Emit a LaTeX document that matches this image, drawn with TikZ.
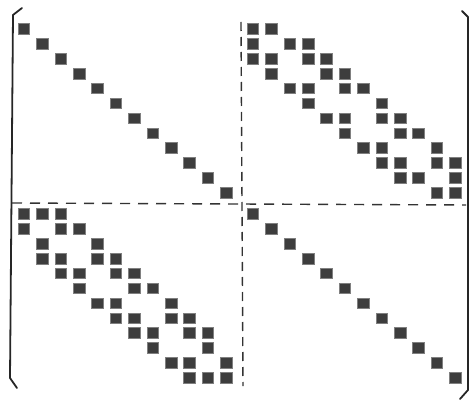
\documentclass[tikz,border=0pt]{standalone}
\usetikzlibrary{calc}
\tikzset{
  nz/.style={fill=black!76,draw=black!50,line width=0.9pt},
  blockline/.style={line width=1.4pt,black!80,dash pattern=on 10pt off 8pt},
  bracket/.style={line width=1.8pt,black!85,line cap=round,line join=round}
}
% one nonzero of the 24x24 pattern, (row, column)
\newcommand{\nzentry}[2]{%
  \pgfmathsetmacro\nzx{(#2)<12 ? 24+18.4*(#2) : 253+18.4*((#2)-12)}%
  \pgfmathsetmacro\nzy{(#1)<12 ? 29+14.9*(#1) : 214+14.9*((#1)-12)}%
  \path[nz] (\nzx-5.8,\nzy-5.3) rectangle (\nzx+5.8,\nzy+5.3);}

\begin{document}
\begin{tikzpicture}[x=1pt,y=-1pt]
  \useasboundingbox (0,0) rectangle (470,401);
  % brackets
  \draw[bracket] (22,8) -- (13,15) -- (10,378) -- (17,388);
  \draw[bracket] (462,11) -- (468,17) -- (468,390) -- (460,399);
  % block separators
  \draw[blockline] (12,203) -- (466,205);
  \draw[blockline,dash pattern=on 9pt off 6pt] (241,22) -- (243,386);
  % diagonal blocks
  \foreach \i in {0,...,23}
    \nzentry{\i}{\i};
  % upper right block
  \foreach \r/\cols in {0/{0,1},1/{0,2,3},2/{0,1,3,4},3/{1,4,5},4/{2,3,5,6},
      5/{3,7},6/{4,5,7,8},7/{5,8,9},8/{6,7,10},9/{7,8,10,11},10/{8,9,11},11/{10,11}}
    \foreach \c in \cols
      \nzentry{\r}{\c+12};
  % lower left block
  \foreach \r/\cols in {0/{0,1,2},1/{0,2,3},2/{1,4},3/{1,2,4,5},4/{2,3,5,6},
      5/{3,6,7},6/{4,5,8},7/{5,6,8,9},8/{6,7,9,10},9/{7,10},10/{8,9,11},11/{9,10,11}}
    \foreach \c in \cols
      \nzentry{\r+12}{\c};
\end{tikzpicture}
\end{document}
